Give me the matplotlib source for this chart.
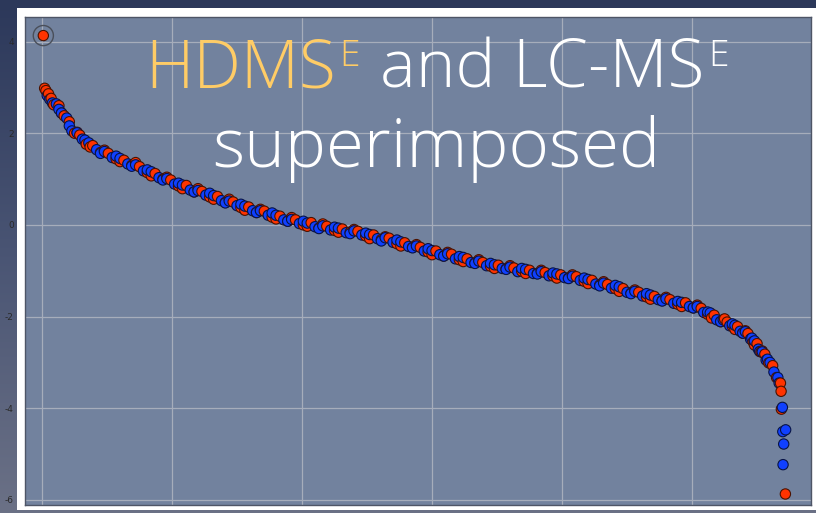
import numpy as np
import matplotlib
matplotlib.use('Agg')
from matplotlib import pyplot as plt
from matplotlib import font_manager
from matplotlib.patches import Rectangle
from matplotlib.colors import LinearSegmentedColormap

plt.rcParams['axes.unicode_minus'] = False

# red series (rank, value)
red_rank = [1, 2, 3, 5, 9, 13, 17, 21, 25, 29, 34, 39, 45, 51, 57, 63, 69, 75, 81, 87,
            93, 99, 105, 111, 117, 123, 129, 135, 141, 147, 153, 159, 165, 171, 177, 183,
            189, 195, 201, 207, 213, 219, 225, 231, 237, 243, 249, 255, 261, 267, 273, 279,
            285, 291, 297, 303, 309, 315, 321, 327, 333, 339, 345, 351, 357, 363, 369, 375,
            381, 387, 393, 399, 405, 411, 417, 423, 429, 435, 441, 447, 453, 459, 465, 471,
            477, 483, 489, 495, 501, 507, 512, 517, 522, 527, 531, 535, 539, 543, 547, 550,
            553, 556, 559, 562, 565, 568, 568.5, 568.7, 571.8,
            7, 15, 27, 37, 48, 60, 72, 84, 96, 108, 120, 132, 144, 156, 168, 180, 192, 204,
            216, 228, 240, 252, 264, 276, 288, 300, 312, 324, 336, 348, 360, 372, 384, 396,
            408, 420, 432, 444, 456, 468, 480, 492, 504, 515, 525, 533, 541, 548, 554]
red_vals = [4.13, 2.98, 2.93, 2.86, 2.62, 2.60, 2.38, 2.25, 2.00, 1.96, 1.76, 1.73, 1.58, 1.56,
            1.44, 1.41, 1.30, 1.27, 1.14, 1.12, 1.00, 0.98, 0.85, 0.86, 0.72, 0.73, 0.61, 0.62,
            0.49, 0.50, 0.38, 0.39, 0.27, 0.30, 0.17, 0.19, 0.08, 0.11, 0.00, 0.05, -0.07,
            -0.03, -0.12, -0.09, -0.16, -0.14, -0.24, -0.22, -0.32, -0.29, -0.41, -0.39, -0.49,
            -0.49, -0.59, -0.57, -0.68, -0.64, -0.76, -0.74, -0.83, -0.82, -0.90, -0.88, -0.96,
            -0.94, -1.01, -0.99, -1.06, -1.04, -1.11, -1.09, -1.16, -1.13, -1.23, -1.21, -1.31,
            -1.30, -1.39, -1.39, -1.49, -1.47, -1.57, -1.56, -1.65, -1.63, -1.73, -1.70, -1.81,
            -1.82, -1.95, -1.97, -2.11, -2.12, -2.21, -2.22, -2.36, -2.37, -2.55, -2.59, -2.77,
            -2.82, -3.01, -3.07, -3.33, -3.45, -3.63, -4.02, -5.87,
            2.76, 2.44, 2.02, 1.70, 1.63, 1.38, 1.36, 1.07, 1.04, 0.79, 0.79, 0.56, 0.56, 0.32,
            0.34, 0.13, 0.16, -0.03, 0.02, -0.16, -0.10, -0.30, -0.26, -0.46, -0.43, -0.65,
            -0.60, -0.80, -0.76, -0.95, -0.89, -1.06, -0.99, -1.16, -1.09, -1.28, -1.24, -1.45,
            -1.42, -1.62, -1.58, -1.78, -1.75, -2.03, -2.05, -2.28, -2.31, -2.62, -2.75]

# blue series (rank, value)
blue_rank = [6, 8, 11, 15, 19, 23, 27, 31, 36, 42, 48, 54, 60, 66, 72, 78, 84, 90, 96, 102,
             108, 114, 120, 126, 132, 138, 144, 150, 156, 162, 168, 174, 180, 186, 192, 198,
             204, 210, 216, 222, 228, 234, 240, 246, 252, 258, 264, 270, 276, 282, 288, 294,
             300, 306, 312, 318, 324, 330, 336, 342, 348, 354, 360, 366, 372, 378, 384, 390,
             396, 402, 408, 414, 420, 426, 432, 438, 444, 450, 456, 462, 468, 474, 480, 486,
             492, 498, 504, 509, 514, 519, 524, 529, 533, 537, 541, 545, 548, 551, 554, 557,
             560, 563, 566, 567, 569.5, 569.8, 572, 570.5, 570,
             4, 13, 21, 33, 45, 57, 69, 81, 93, 105, 117, 129, 141, 153, 165, 177, 189, 201,
             213, 225, 237, 249, 261, 273, 285, 297, 309, 321, 333, 345, 357, 369, 381, 393,
             405, 417, 429, 441, 453, 465, 477, 489, 501, 512, 522, 531, 539, 546, 552, 558]
blue_vals = [2.74, 2.66, 2.64, 2.44, 2.33, 2.05, 2.01, 1.87, 1.79, 1.64, 1.60, 1.47, 1.45,
             1.33, 1.31, 1.18, 1.16, 1.03, 1.01, 0.89, 0.87, 0.76, 0.75, 0.65, 0.64, 0.53, 0.52,
             0.42, 0.41, 0.31, 0.31, 0.21, 0.21, 0.11, 0.12, 0.03, 0.04, -0.04, -0.02, -0.11,
             -0.07, -0.17, -0.13, -0.22, -0.21, -0.30, -0.28, -0.38, -0.37, -0.47, -0.46, -0.57,
             -0.56, -0.65, -0.63, -0.74, -0.71, -0.82, -0.79, -0.89, -0.87, -0.95, -0.92, -1.02,
             -0.97, -1.06, -1.02, -1.11, -1.07, -1.15, -1.12, -1.21, -1.19, -1.29, -1.27, -1.38,
             -1.35, -1.47, -1.45, -1.55, -1.53, -1.63, -1.61, -1.71, -1.69, -1.78, -1.78, -1.91,
             -1.92, -2.07, -2.07, -2.20, -2.19, -2.32, -2.33, -2.49, -2.53, -2.71, -2.77, -2.95,
             -3.00, -3.21, -3.33, -3.45, -3.98, -4.51, -4.47, -4.78, -5.23,
             2.82, 2.52, 2.16, 1.85, 1.56, 1.50, 1.28, 1.20, 0.98, 0.91, 0.72, 0.69, 0.48, 0.45,
             0.27, 0.26, 0.08, 0.08, -0.08, -0.05, -0.19, -0.18, -0.35, -0.33, -0.50, -0.52,
             -0.68, -0.69, -0.84, -0.84, -0.97, -0.95, -1.07, -1.05, -1.17, -1.16, -1.33, -1.32,
             -1.50, -1.50, -1.66, -1.67, -1.81, -1.90, -2.11, -2.16, -2.36, -2.47, -2.76, -2.93]

yticks = [4, 2, 0, -2, -4, -6]
xticks = [0, 100, 200, 300, 400, 500]

W, H = 816, 513
fig = plt.figure(figsize=(W / 100, H / 100), dpi=100)

# dark slide background
bg = fig.add_axes([0, 0, 1, 1], zorder=-10)
grad = np.linspace(0, 1, 256).reshape(-1, 1)
cm = LinearSegmentedColormap.from_list('bg', ['#2c385a', '#4a5574', '#6b7186'])
bg.imshow(grad, aspect='auto', cmap=cm, extent=[0, 1, 0, 1])
bg.axis('off')

# white frame
fig.patches.append(Rectangle((17 / W, 3 / H), (W - 17) / W, 502 / H, transform=fig.transFigure,
                             facecolor='white', edgecolor='none', zorder=-5))

ax = fig.add_axes([25 / W, 8 / H, 786 / W, 488 / H])
ax.set_facecolor('#72829e')
ax.set_xlim(-13.1, 591.5)
ax.set_ylim(-6.11, 4.535)
ax.set_xticks(xticks)
ax.set_yticks(yticks)
ax.set_yticklabels([str(t) for t in yticks])
ax.grid(True, color='#a6adbb', linewidth=0.9)
ax.set_axisbelow(True)
ax.tick_params(axis='x', length=0, labelbottom=False)
ax.tick_params(axis='y', length=0, pad=8, labelsize=6.5, labelcolor='#2a2a2a')
for s in ax.spines.values():
    s.set_color('#4e5566')
    s.set_linewidth(1)

# both series in one scatter, ordered by rank so the colours interleave
rank = np.array(red_rank + blue_rank, dtype=float)
vals = np.array(red_vals + blue_vals)
face = np.array(['#ff3300'] * len(red_rank) + ['#1040ff'] * len(blue_rank))
edge = np.array(['#4a1200'] * len(red_rank) + ['#081446'] * len(blue_rank))
order = np.argsort(rank, kind='stable')
ax.scatter(rank[order], vals[order], s=55, c=face[order], edgecolors=edge[order],
           linewidths=0.8, zorder=3)

# circle round the outlier
ax.scatter([red_rank[0]], [red_vals[0]], s=210, facecolors='none', edgecolors='#4a4f5a',
           linewidths=1.0, zorder=4)

# title font: a light weight if one is installed
light = None
for name in ['Open Sans', 'Roboto', 'Noto Sans', 'Inter', 'Lato']:
    for f in font_manager.fontManager.ttflist:
        if f.name == name and f.weight in (300, 'light') and f.style == 'normal':
            light = name
            break
    if light:
        break
font = [light or 'Lato', 'DejaVu Sans']
weight = 300 if light else 'normal'
gold = '#ffcc66'
renderer = fig.canvas.get_renderer()


def piece(x, yb, s, color, size):
    t = fig.text(x / W, 1 - yb / H, s, color=color, fontsize=size, family=font,
                 fontweight=weight, ha='left', va='baseline')
    return t, t.get_window_extent(renderer).x1


def line1(size):
    texts = []
    t, x = piece(145, 88, 'HDMS', gold, size); texts.append(t)
    t, x = piece(x + 4, 66, 'E', gold, size * 0.55); texts.append(t)
    t, x = piece(x + 20, 88, 'and LC-MS', 'white', size); texts.append(t)
    t, x = piece(x + 4, 66, 'E', 'white', size * 0.55); texts.append(t)
    return texts, x


texts, xend = line1(46)
for t in texts:
    t.remove()
texts, xend = line1(46 * (730 - 145) / (xend - 145))

t2 = fig.text(436 / W, 1 - 167 / H, 'superimposed', color='white', fontsize=46, family=font,
              fontweight=weight, ha='center', va='baseline')
w2 = t2.get_window_extent(renderer).width
t2.set_fontsize(46 * 448 / w2)

fig.savefig('out.png', dpi=100)
